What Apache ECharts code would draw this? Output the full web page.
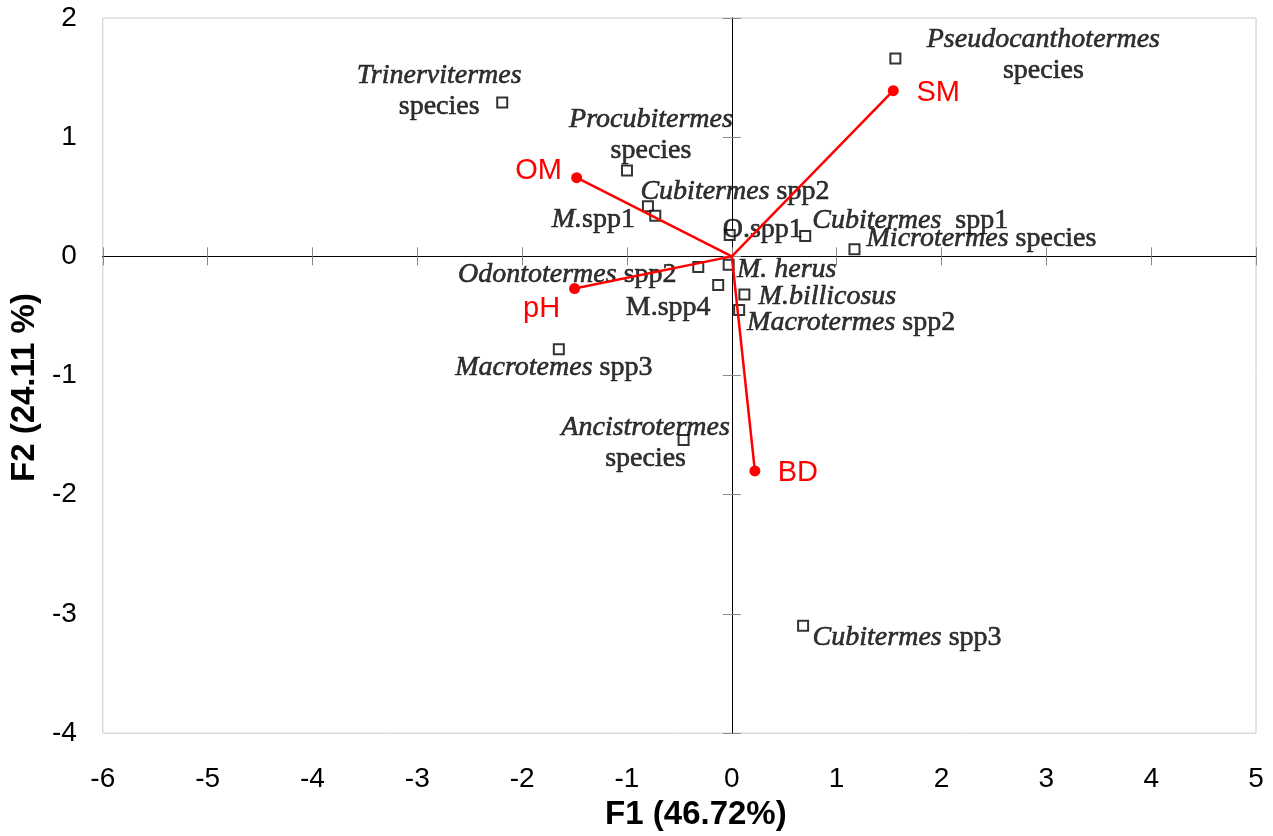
<!DOCTYPE html>
<html>
<head>
<meta charset="utf-8">
<script src="https://cdn.jsdelivr.net/npm/echarts@6/dist/echarts.min.js"></script>
<style>
html,body{margin:0;padding:0;background:#fff;}
#chart{width:1273px;height:836px;}
</style>
</head>
<body>
<div id="chart"></div>
<script>
// ---- data ----
const xTicks = [-6,-5,-4,-3,-2,-1,0,1,2,3,4,5];
const yTicks = [-4,-3,-2,-1,0,1,2];
const xTitle = 'F1 (46.72%)';
const yTitle = 'F2 (24.11 %)';

const speciesGenus = ['Trinervitermes','Procubitermes','Pseudocanthotermes','Cubitermes','M.','','Cubitermes','Microtermes','Odontotermes','M. herus','','M.billicosus','Macrotermes','Macrotemes','Ancistrotermes','Cubitermes'];
const speciesSep   = ['\n','\n','\n',' ','','',' \u00a0',' ',' ','','','',' ',' ','\n',' '];
const speciesRest  = ['species','species','species','spp2','spp1','O.spp1','spp1','species','spp2','','M.spp4','','spp2','spp3','species','spp3'];
const speciesF1 = [-2.19,-1.00,1.56,-0.80,-0.73,-0.02,0.70,1.17,-0.32,-0.03,-0.13,0.12,0.07,-1.65,-0.46,0.68];
const speciesF2 = [1.29,0.72,1.66,0.42,0.34,0.18,0.17,0.06,-0.09,-0.07,-0.24,-0.32,-0.45,-0.78,-1.54,-3.10];

const varNames = ['SM','OM','pH','BD'];
const varF1 = [1.54,-1.48,-1.50,0.22];
const varF2 = [1.39,0.66,-0.27,-1.80];

// ---- layout (label offsets in px, kept apart from data) ----
const speciesLabelOffset = [[-63,-11],[24,-35],[148,-3],[87,-15],[-62,4],[33,-5],[105,-15],[127,-11],[-131,8],[58,5],[-50,23],[83,2],[112,13],[-5,18],[-38,3],[104,12]];
const varLabelOffset = [[45,2],[-38,-7],[-33,20],[43,2]];

const SANS = 'Liberation Sans, Arial, sans-serif';
const SERIF = 'Liberation Serif, Times New Roman, serif';

function speciesLabel(i){
  let s = '';
  if (speciesGenus[i]) s += '{i|' + speciesGenus[i] + '}';
  const sep = speciesSep[i];
  if (sep === '\n') {
    s += '\n' + '{n|' + speciesRest[i] + '}';
  } else if (speciesRest[i]) {
    s += '{n|' + sep + speciesRest[i] + '}';
  }
  return s;
}

const speciesData = speciesF1.map((x,i)=>({
  value:[x, speciesF2[i]],
  label:{offset: speciesLabelOffset[i], formatter: speciesLabel(i)}
}));
const varData = varF1.map((x,i)=>({
  value:[x, varF2[i]],
  name: varNames[i],
  label:{offset: varLabelOffset[i]}
}));
const varLines = varF1.map((x,i)=>({coords:[[0,0],[x, varF2[i]]]}));

const xmin = xTicks[0], xmax = xTicks[xTicks.length-1];
const ymin = yTicks[0], ymax = yTicks[yTicks.length-1];

function zeroX(inside){
  return {type:'value', min:xmin, max:xmax, interval:1, position:'bottom',
    axisLine:{show:true, onZero:true, lineStyle:{color:'#000', width:1}},
    axisTick:{show:true, inside:inside, length:9, lineStyle:{color:'#8a8a8a', width:1}},
    axisLabel:{show:false}, splitLine:{show:false}};
}
function zeroY(inside){
  return {type:'value', min:ymin, max:ymax, interval:1, position:'left',
    axisLine:{show:true, onZero:true, lineStyle:{color:'#000', width:1}},
    axisTick:{show:true, inside:inside, length:9, lineStyle:{color:'#8a8a8a', width:1}},
    axisLabel:{show:false}, splitLine:{show:false}};
}

const inkBorder = {textBorderWidth:0.6, textBorderColor:'#000', textShadowBlur:0};
const noBorder = {textBorderWidth:0, textBorderColor:'transparent', textShadowBlur:0};

const chart = echarts.init(document.getElementById('chart'), null, {renderer:'canvas'});
chart.setOption({
  animation:false,
  backgroundColor:'#fff',
  grid:{left:101, right:17, top:18, bottom:95, show:true, borderColor:'#c8c8c8', borderWidth:1, containLabel:false},
  xAxis:[
    {type:'value', min:xmin, max:xmax, interval:1, position:'bottom',
     axisLine:{show:false, onZero:false}, axisTick:{show:false}, splitLine:{show:false},
     axisLabel:{margin:32, fontSize:28, color:'#000', fontFamily:SANS},
     name:xTitle, nameLocation:'middle', nameGap:52,
     nameTextStyle:{fontFamily:SANS, fontWeight:'bold', fontSize:33, color:'#000', padding:[0,0,0,33]}},
    zeroX(true), zeroX(false)
  ],
  yAxis:[
    {type:'value', min:ymin, max:ymax, interval:1, position:'left',
     axisLine:{show:false, onZero:false}, axisTick:{show:false}, splitLine:{show:false},
     axisLabel:{margin:26, fontSize:28, color:'#000', fontFamily:SANS},
     name:yTitle, nameLocation:'middle', nameGap:45, nameRotate:90,
     nameTextStyle:{fontFamily:SANS, fontWeight:'bold', fontSize:33, color:'#000', padding:[0,24,0,0]}},
    zeroY(true), zeroY(false)
  ],
  series:[
    {type:'scatter', xAxisIndex:0, yAxisIndex:0, z:2,
     symbol:'rect', symbolSize:10,
     itemStyle:{color:'#fff', borderColor:'#000', borderWidth:2},
     label:Object.assign({show:true, position:'inside', align:'center', verticalAlign:'middle',
       fontFamily:SERIF, fontSize:28, color:'#000', lineHeight:31,
       rich:{
         i:Object.assign({fontFamily:SERIF, fontSize:28, fontStyle:'italic', color:'#000', lineHeight:31}, inkBorder),
         n:Object.assign({fontFamily:SERIF, fontSize:28, color:'#000', lineHeight:31}, inkBorder)
       }}, inkBorder),
     emphasis:{disabled:true},
     data:speciesData},
    {type:'lines', coordinateSystem:'cartesian2d', xAxisIndex:0, yAxisIndex:0, z:5,
     lineStyle:{color:'#ff0000', width:2.5, opacity:1},
     symbol:['none','none'],
     data:varLines},
    {type:'scatter', xAxisIndex:0, yAxisIndex:0, z:6,
     symbol:'circle', symbolSize:11,
     itemStyle:{color:'#ff0000', opacity:1},
     label:Object.assign({show:true, position:'inside', align:'center', verticalAlign:'middle',
       formatter:'{b}', fontFamily:SANS, fontSize:29, color:'#ff0000'}, noBorder),
     emphasis:{disabled:true},
     data:varData}
  ]
});
</script>
</body>
</html>
